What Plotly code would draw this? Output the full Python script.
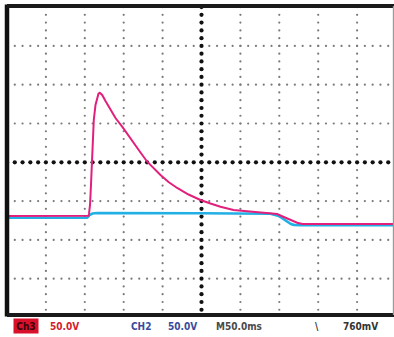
import plotly.graph_objects as go

# Oscilloscope screen: x in divisions (50 ms/div), y in divisions (50 V/div), centre = (5, 0)
ch3_x = [0.0, 2.060, 2.095, 2.108, 2.134, 2.159, 2.190, 2.231, 2.275, 2.319, 2.352, 2.386,
         2.447, 2.532, 2.661, 2.789, 2.961, 3.098, 3.252, 3.432, 3.604, 3.766, 3.946,
         4.152, 4.375, 4.666, 4.974, 5.231, 5.488, 5.822, 6.260, 6.689, 6.946, 7.057,
         7.203, 7.339, 7.460, 7.596, 9.96]
ch3_y = [-1.384, -1.384, -1.375, -1.33, -1.10, -0.585, 0.06, 1.09, 1.48, 1.68, 1.77, 1.794,
         1.735, 1.580, 1.348, 1.142, 0.918, 0.716, 0.497, 0.253, 0.015, -0.160, -0.327,
         -0.508, -0.662, -0.830, -0.972, -1.062, -1.144, -1.229, -1.273, -1.299, -1.332, -1.384,
         -1.443, -1.513, -1.557, -1.590, -1.590]

ch2_x = [0.0, 2.057, 2.090, 2.121, 2.198, 2.326, 4.974, 6.774, 6.987, 7.100, 7.203, 7.300,
         7.373, 7.545, 9.96]
ch2_y = [-1.428, -1.428, -1.40, -1.358, -1.320, -1.307, -1.314, -1.327, -1.384, -1.455, -1.531, -1.59,
         -1.612, -1.620, -1.620]

x_divs = [0, 1, 2, 3, 4, 5, 6, 7, 8, 9, 10]
y_divs = [-4, -3, -2, -1, 0, 1, 2, 3, 4]
minor_step = 0.2

labels = ["Ch3", "50.0V", "CH2", "50.0V", "M50.0ms", "\\", "760mV"]
label_px = [25.5, 64, 141, 182, 239.5, 317, 360]
label_colors = ["#3a0008", "#d4202e", "#3a4a9c", "#3a4a9c", "#4a4a4a", "#333333", "#333333"]

fig = go.Figure()

# dotted graticule
sx, sy, bx, by = [], [], [], []
n_y = int(round((y_divs[-1] - y_divs[0]) / minor_step))
n_x = int(round((x_divs[-1] - x_divs[0]) / minor_step))
for xv in x_divs[1:-1]:
    for k in range(n_y + 1):
        yv = y_divs[0] + k * minor_step
        if xv == 5:
            bx.append(xv); by.append(yv)
        else:
            sx.append(xv); sy.append(yv)
for yv in y_divs[1:-1]:
    for k in range(n_x + 1):
        xv = x_divs[0] + k * minor_step
        if yv == 0:
            bx.append(xv); by.append(yv)
        else:
            sx.append(xv); sy.append(yv)

fig.add_trace(go.Scatter(x=sx, y=sy, mode="markers", hoverinfo="skip",
                         marker=dict(size=2.2, color="#7a7a7a")))
fig.add_trace(go.Scatter(x=bx, y=by, mode="markers", hoverinfo="skip",
                         marker=dict(size=4.2, color="#111111")))

fig.add_trace(go.Scatter(x=ch2_x, y=ch2_y, mode="lines", hoverinfo="skip",
                         line=dict(color="#22b0e4", width=2.6)))
fig.add_trace(go.Scatter(x=ch3_x, y=ch3_y, mode="lines", hoverinfo="skip",
                         line=dict(color="#e2207c", width=2.0)))

L, T, W, H = 7, 6, 387, 309
fig.update_layout(
    width=394, height=337,
    margin=dict(l=L, r=394 - L - W, t=T, b=337 - T - H),
    paper_bgcolor="white", plot_bgcolor="white",
    showlegend=False,
    xaxis=dict(range=[0, W / 38.9], visible=False, fixedrange=True),
    yaxis=dict(range=[(162.3 - (T + H)) / 38.8, (162.3 - T) / 38.8], visible=False, fixedrange=True),
)

# frame
fig.add_shape(type="line", xref="paper", yref="paper", x0=0, x1=0, y0=-0.005, y1=1.005,
              line=dict(color="#111111", width=4.5))
fig.add_shape(type="line", xref="paper", yref="paper", x0=0, x1=1, y0=1, y1=1,
              line=dict(color="#1a1a1a", width=4))
fig.add_shape(type="line", xref="paper", yref="paper", x0=0, x1=1, y0=0, y1=0,
              line=dict(color="#1a1a1a", width=4))
fig.add_shape(type="line", xref="paper", yref="paper", x0=0.9985, x1=0.9985, y0=0, y1=1,
              line=dict(color="#9a9a9a", width=1.2))

font_fam = "Liberation Sans Narrow, DejaVu Sans Condensed, sans-serif"
y_lab = (T + H - 326) / H
for i, (t, px, c) in enumerate(zip(labels, label_px, label_colors)):
    kw = {}
    if i == 0:
        kw = dict(bgcolor="#d8102a", borderpad=1.5, width=21)
    fig.add_annotation(text="<b>" + t + "</b>", xref="paper", yref="paper",
                       x=(px - L) / W, y=y_lab, showarrow=False,
                       xanchor="center", yanchor="middle",
                       font=dict(family=font_fam, size=10, color=c), **kw)

fig.write_html("out.html", config={"displayModeBar": False},
               post_script="document.body.style.margin='0';document.body.style.padding='0';")
